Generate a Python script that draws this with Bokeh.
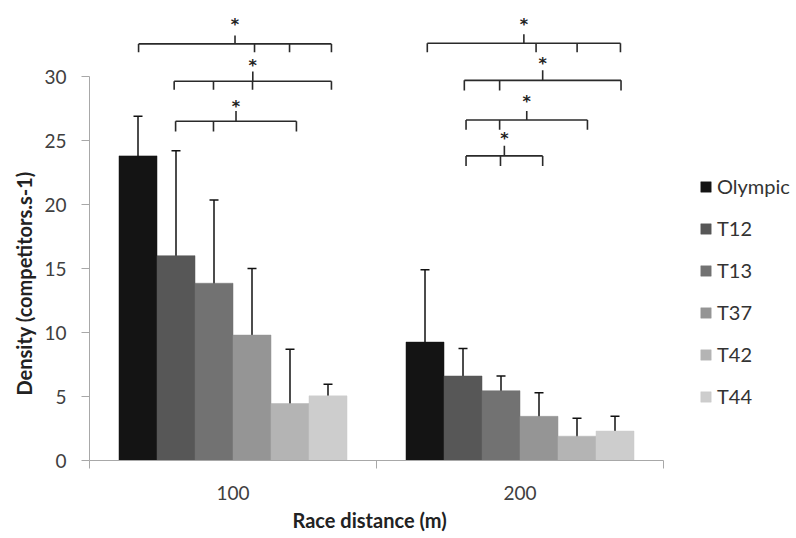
from bokeh.plotting import figure
from bokeh.models import (ColumnDataSource, Range1d, FixedTicker, Whisker, TeeHead,
                          Legend, LegendItem, Title)
from bokeh.core.properties import value
from bokeh.embed import file_html
from bokeh.resources import INLINE

# ---- data ----
distances = ["100", "200"]
series = ["Olympic", "T12", "T13", "T37", "T42", "T44"]
colors = ["#141414", "#575757", "#727272", "#959595", "#b4b4b4", "#cdcdcd"]
mean_100 = [23.8, 16.0, 13.85, 9.8, 4.45, 5.05]
upper_100 = [26.9, 24.2, 20.35, 15.0, 8.7, 5.95]
lower_100 = [21.0, 7.95, 7.45, 4.85, 0.35, 4.2]
mean_200 = [9.25, 6.6, 5.45, 3.45, 1.9, 2.3]
upper_200 = [14.9, 8.75, 6.6, 5.3, 3.3, 3.45]
lower_200 = [3.65, 4.65, 4.25, 1.6, 0.5, 1.15]

# significance brackets (x in category units: 100 spans 0-1, 200 spans 1-2)
brk_left = [0.171, 0.295, 0.300, 1.177, 1.306, 1.312, 1.312]
brk_right = [0.843, 0.843, 0.721, 1.850, 1.852, 1.735, 1.579]
brk_inner = [[0.575, 0.697], [0.432, 0.568], [0.432], [1.556, 1.699], [1.429], [1.429], [1.432]]
brk_y = [32.55, 29.63, 26.5, 32.6, 29.7, 26.6, 23.8]
brk_drop = [31.9, 28.96, 25.7, 31.9, 28.9, 25.84, 23.0]
brk_top = [33.2, 30.4, 27.3, 33.3, 30.5, 27.3, 24.6]
star_y = [34.05, 30.85, 27.65, 34.05, 31.05, 28.05, 25.15]

x_title = "Race distance (m)"
y_title = "Density (competitors.s-1)"

FONT = "Lato"
bar_w = 0.1324

p = figure(width=796, height=538, output_backend="svg", toolbar_location=None,
           x_range=Range1d(0, 2.4634), y_range=Range1d(0, 35.94),
           min_border_left=89, min_border_right=0, min_border_top=0, min_border_bottom=78)
p.outline_line_color = None
p.grid.grid_line_color = None

legend_items = []
for i, name in enumerate(series):
    xs = [g + 0.5 + (i - 2.5) * bar_w for g in range(len(distances))]
    src = ColumnDataSource(dict(x=xs, top=[mean_100[i], mean_200[i]]))
    r = p.vbar(x="x", top="top", width=bar_w, bottom=0, source=src,
               fill_color=colors[i], line_color=colors[i], line_width=0.5)
    legend_items.append(LegendItem(label=name, renderers=[r]))

for i, name in enumerate(series):
    xs = [g + 0.5 + (i - 2.5) * bar_w for g in range(len(distances))]
    src = ColumnDataSource(dict(x=xs, upper=[upper_100[i], upper_200[i]],
                                lower=[lower_100[i], lower_200[i]]))
    w = Whisker(base="x", upper="upper", lower="lower", source=src,
                line_color="#111111", line_width=1.5,
                upper_head=TeeHead(size=9, line_color="#111111", line_width=1.5),
                lower_head=TeeHead(size=9, line_color="#111111", line_width=1.5))
    p.add_layout(w)

# brackets
xs0, ys0, xs1, ys1 = [], [], [], []
for k in range(len(brk_y)):
    L, R, y, d, t = brk_left[k], brk_right[k], brk_y[k], brk_drop[k], brk_top[k]
    segs = [(L, y, R, y), (L, y, L, d), (R, y, R, d), ((L + R) / 2, y, (L + R) / 2, t)]
    for xi in brk_inner[k]:
        segs.append((xi, y, xi, d))
    for a, b, c, e in segs:
        xs0.append(a); ys0.append(b); xs1.append(c); ys1.append(e)
p.segment(x0=xs0, y0=ys0, x1=xs1, y1=ys1, line_color="#2a2a2a", line_width=1.6)
p.text(x=[(l + r) / 2 for l, r in zip(brk_left, brk_right)], y=star_y, text=["*"] * len(star_y),
       text_align="center", text_baseline="middle", text_font=value("DejaVu Sans"),
       text_font_size="16px", text_font_style="bold", text_color="#222222")

# axes
p.yaxis.bounds = (0, 30)
p.yaxis.ticker = FixedTicker(ticks=[0, 5, 10, 15, 20, 25, 30])
p.yaxis.minor_tick_line_color = None
p.yaxis.major_tick_out = 8
p.yaxis.major_tick_in = 0
p.yaxis.major_label_standoff = 15
p.yaxis.axis_line_color = "#a8a8a8"
p.yaxis.major_tick_line_color = "#a8a8a8"

p.xaxis.bounds = (0, 2)
p.xaxis.ticker = FixedTicker(ticks=[0.5, 1.5], minor_ticks=[0, 1, 2])
p.xaxis.major_label_overrides = {0.5: distances[0], 1.5: distances[1]}
p.xaxis.major_tick_line_color = None
p.xaxis.major_tick_out = 0
p.xaxis.major_tick_in = 0
p.xaxis.minor_tick_out = 8
p.xaxis.minor_tick_in = 0
p.xaxis.minor_tick_line_color = "#a8a8a8"
p.xaxis.axis_line_color = "#a8a8a8"
p.xaxis.major_label_standoff = 17

for ax in (p.xaxis, p.yaxis):
    ax.major_label_text_font = FONT
    ax.major_label_text_font_size = "19px"
    ax.major_label_text_color = "#404040"

# axis titles (placed as side titles so they can sit centred on the axis extent)
p.add_layout(Title(text=x_title, align="left", offset=203, vertical_align="middle",
                   standoff=8, text_font=FONT, text_font_size="20px",
                   text_font_style="bold", text_color="#222222"), "below")
p.add_layout(Title(text=y_title, align="left", offset=65, vertical_align="middle",
                   standoff=10, text_font=FONT, text_font_size="20px",
                   text_font_style="bold", text_color="#222222"), "left")

legend = Legend(items=legend_items, location=(610, 52), orientation="vertical",
                glyph_height=13, glyph_width=13, label_height=13, spacing=18,
                label_standoff=5, padding=0, margin=0, border_line_color=None,
                background_fill_alpha=0, label_text_font=FONT,
                label_text_font_size="20px", label_text_color="#333333",
                label_text_baseline="middle")
p.add_layout(legend)

open("out.html", "w").write(file_html(p, INLINE))
